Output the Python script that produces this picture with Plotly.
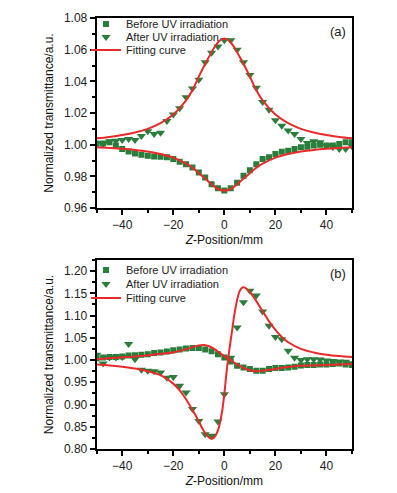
import plotly.graph_objects as go

# ---------------- data ----------------
z_pts = [-50, -47.5, -45, -42.5, -40, -37.5, -35, -32.5, -30, -27.5, -25, -22.5, -20,
         -17.5, -15, -12.5, -10, -7.5, -5, -2.5, 0, 2.5, 5, 7.5, 10, 12.5, 15, 17.5,
         20, 22.5, 25, 27.5, 30, 32.5, 35, 37.5, 40, 42.5, 45, 47.5, 50]

# panel (a)
a_before = [1.0008, 1.0008, 1.0015, 0.9994, 0.9972, 0.9957, 0.9945, 0.9936, 0.9930, 0.9926,
            0.9924, 0.9920, 0.9909, 0.9892, 0.9877, 0.9856, 0.9824, 0.9792, 0.9750, 0.9724,
            0.9711, 0.9724, 0.9760, 0.9803, 0.9839, 0.9877, 0.9909, 0.9920, 0.9941, 0.9955,
            0.9962, 0.9972, 0.9983, 0.9987, 0.9994, 1.0000, 0.9994, 0.9994, 1.0004, 1.0015,
            1.0015]
a_after = [1.0010, 1.0005, 1.0020, 1.0025, 1.0030, 1.0036, 1.0030, 1.0055, 1.0085, 1.0068,
           1.0075, 1.0150, 1.0190, 1.0230, 1.0300, 1.0355, 1.0410, 1.0520, 1.0580, 1.0620,
           1.0660, 1.0660, 1.0600, 1.0520, 1.0440, 1.0360, 1.0270, 1.0220, 1.0155, 1.0120,
           1.0090, 1.0068, 1.0036, 1.0010, 1.0022, 1.0015, 0.9995, 0.9985, 0.9972, 0.9972,
           0.9990]
a_fit_z = [-50, -45, -40, -35, -30, -25, -20, -15, -12, -10, -8, -6, -4, -2, 0,
           2, 4, 6, 8, 10, 12, 15, 20, 25, 30, 35, 40, 45, 50]
a_fit_peak = [1.0040, 1.0049, 1.0061, 1.0077, 1.0100, 1.0136, 1.0190, 1.0280, 1.0360, 1.0430,
              1.0495, 1.0555, 1.0612, 1.0655, 1.0670, 1.0655, 1.0612, 1.0555, 1.0495, 1.0430,
              1.0360, 1.0280, 1.0190, 1.0136, 1.0100, 1.0077, 1.0061, 1.0049, 1.0040]
a_fit_valley = [0.9983, 0.9979, 0.9974, 0.9967, 0.9957, 0.9941, 0.9918, 0.9880, 0.9848, 0.9820,
                0.9792, 0.9764, 0.9736, 0.9717, 0.9710, 0.9717, 0.9736, 0.9764, 0.9792, 0.9820,
                0.9848, 0.9880, 0.9918, 0.9941, 0.9957, 0.9967, 0.9974, 0.9979, 0.9983]

# panel (b)
b_before = [1.004, 1.006, 1.007, 1.007, 1.008, 1.010, 1.011, 1.012, 1.013, 1.016,
            1.017, 1.019, 1.022, 1.024, 1.026, 1.027, 1.027, 1.024, 1.020, 1.013,
            1.006, 0.997, 0.987, 0.983, 0.980, 0.976, 0.976, 0.980, 0.982, 0.982,
            0.983, 0.985, 0.988, 0.989, 0.989, 0.990, 0.990, 0.991, 0.992, 0.990,
            0.989]
b_after = [1.012, 0.992, 1.006, 1.006, 1.007, 1.036, 1.002, 0.978, 0.976, 0.975,
           0.972, 0.960, 0.962, 0.942, 0.927, 0.890, 0.863, 0.833, 0.830, 0.862,
           0.923, 1.005, 1.073, 1.130, 1.156, 1.145, 1.109, 1.077, 1.052, 1.047,
           1.021, 1.005, 1.000, 1.002, 1.002, 1.001, 0.999, 0.998, 0.997, 0.996,
           0.993]
b_fit1_z = [-50, -45, -40, -35, -30, -25, -20, -15, -12.5, -10, -8, -6, -4, -2, 0,
            2, 4, 6, 8, 10, 12, 15, 18, 22, 26, 30, 35, 40, 45, 50]
b_fit1 = [1.002, 1.004, 1.006, 1.008, 1.011, 1.014, 1.017, 1.024, 1.029, 1.033, 1.034,
          1.031, 1.025, 1.017, 1.009, 1.002, 0.994, 0.987, 0.981, 0.977, 0.975, 0.976,
          0.978, 0.982, 0.985, 0.987, 0.988, 0.989, 0.990, 0.991]
b_fit2_z = [-50, -45, -40, -35, -30, -25, -20, -17.5, -15, -12.5, -10, -8, -6, -5, -4,
            -2.5, -1, 0, 1, 2, 3, 4, 5, 6, 7, 8, 10, 12, 15, 17.5, 20, 22.5, 25, 30,
            35, 40, 45, 50]
b_fit2 = [0.990, 0.988, 0.985, 0.981, 0.975, 0.966, 0.947, 0.932, 0.912, 0.888, 0.862,
          0.840, 0.826, 0.823, 0.826, 0.842, 0.880, 0.925, 0.980, 1.025, 1.065, 1.105,
          1.135, 1.155, 1.163, 1.163, 1.153, 1.137, 1.110, 1.087, 1.068, 1.052, 1.040,
          1.025, 1.017, 1.012, 1.009, 1.007]

x_ticks = [-40, -20, 0, 20, 40]
a_yticks = [0.96, 0.98, 1.00, 1.02, 1.04, 1.06, 1.08]
b_yticks = [0.80, 0.85, 0.90, 0.95, 1.00, 1.05, 1.10, 1.15, 1.20]

names = ["Before UV irradiation", "After UV irradiation", "Fitting curve"]

# ---------------- styles ----------------
FONT = "Liberation Sans, Arial, sans-serif"
GREEN = "#2a7d3a"
RED = "#ea2a2a"
OFF = 8                      # default page (body) margin
W, H = 397 - OFF, 493 - OFF  # figure size so it fits the window


def px_x(px):
    return (px - OFF) / W


def px_y(py):
    return 1 - (py - OFF) / H


fig = go.Figure()


def add_panel(xa, ya, before, after, fits, legs):
    fig.add_trace(go.Scatter(x=z_pts, y=before, mode="markers", name=names[0],
                             marker=dict(symbol="square", size=6, color=GREEN),
                             xaxis=xa, yaxis=ya, legend=legs[0]))
    fig.add_trace(go.Scatter(x=z_pts, y=after, mode="markers", name=names[1],
                             marker=dict(symbol="triangle-down", size=8, color=GREEN),
                             xaxis=xa, yaxis=ya, legend=legs[1]))
    for i, (fz, fy) in enumerate(fits):
        fig.add_trace(go.Scatter(x=fz, y=fy, mode="lines", name=names[2],
                                 line=dict(color=RED, width=2, shape="spline"),
                                 xaxis=xa, yaxis=ya, legend=legs[2],
                                 showlegend=(i == 0)))


add_panel("x", "y", a_before, a_after,
          [(a_fit_z, a_fit_peak), (a_fit_z, a_fit_valley)],
          ["legend", "legend2", "legend3"])
add_panel("x2", "y2", b_before, b_after,
          [(b_fit1_z, b_fit1), (b_fit2_z, b_fit2)],
          ["legend4", "legend5", "legend6"])


def xaxis_cfg(anchor):
    return dict(
        domain=[px_x(96.7), px_x(352)], anchor=anchor, range=[-50, 50],
        tickvals=x_ticks, ticks="outside", ticklen=5, tickwidth=1.5, tickcolor="black",
        minor=dict(dtick=10, tick0=0, ticks="outside", ticklen=3, tickwidth=1.5, tickcolor="black"),
        showline=True, linewidth=2, linecolor="black", mirror=True,
        showgrid=False, zeroline=False,
        tickfont=dict(family=FONT, size=12, color="#222"),
        title=dict(text="<i>Z</i>-Position/mm", font=dict(family=FONT, size=12, color="#111"),
                   standoff=4),
    )


def yaxis_cfg(top_px, bot_px, rng, ticks, minor_dtick, anchor):
    return dict(
        domain=[px_y(bot_px), px_y(top_px)], anchor=anchor, range=rng,
        tickvals=ticks, tickformat=".2f", ticks="outside", ticklen=5, tickwidth=1.5,
        tickcolor="black",
        minor=dict(dtick=minor_dtick, tick0=0, ticks="outside", ticklen=3, tickwidth=1.5,
                   tickcolor="black"),
        showline=True, linewidth=2, linecolor="black", mirror=True,
        showgrid=False, zeroline=False,
        tickfont=dict(family=FONT, size=12, color="#222"),
        title=dict(text="Normalized transmittance/a.u.",
                   font=dict(family=FONT, size=12, color="#111"), standoff=8),
    )


def leg(ypx):
    return dict(x=px_x(86), y=px_y(ypx), xanchor="left", yanchor="middle",
                bgcolor="rgba(0,0,0,0)", borderwidth=0, itemwidth=30, visible=True,
                font=dict(family=FONT, size=11, color="#222"))


fig.update_layout(
    width=W, height=H, margin=dict(l=0, r=0, t=0, b=0, autoexpand=False),
    paper_bgcolor="white", plot_bgcolor="white", showlegend=True,
    xaxis=xaxis_cfg("y"),
    yaxis=yaxis_cfg(18, 208, [0.96, 1.08], a_yticks, 0.01, "x"),
    xaxis2=xaxis_cfg("y2"),
    yaxis2=yaxis_cfg(260, 449, [0.80, 1.225], b_yticks, 0.025, "x2"),
    legend=leg(24), legend2=leg(37), legend3=leg(50),
    legend4=leg(270), legend5=leg(284), legend6=leg(298),
    annotations=[
        dict(text="(a)", x=px_x(337.5), y=px_y(31.5), xref="paper", yref="paper",
             xanchor="center", yanchor="middle",
             showarrow=False, font=dict(family=FONT, size=13, color="#222")),
        dict(text="(b)", x=px_x(337.5), y=px_y(273.5), xref="paper", yref="paper",
             xanchor="center", yanchor="middle",
             showarrow=False, font=dict(family=FONT, size=13, color="#222")),
    ],
)

fig.write_html("out.html")
